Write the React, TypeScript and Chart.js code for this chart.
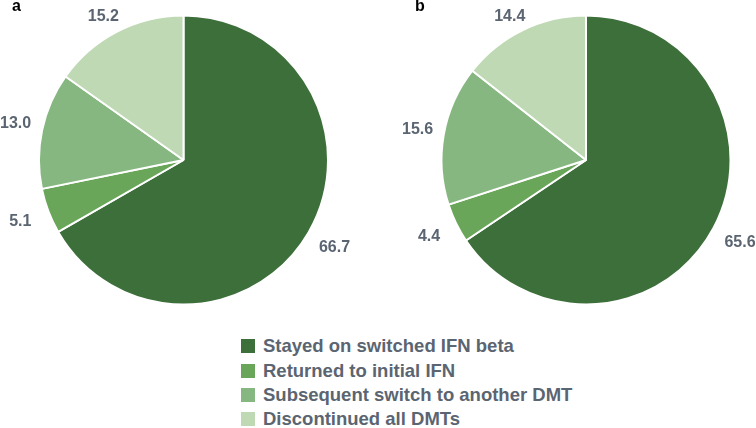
import React, { useEffect, useRef } from "react";
import { Chart, registerables } from "chart.js";

Chart.register(...registerables);

const categories = [
  "Stayed on switched IFN beta",
  "Returned to initial IFN",
  "Subsequent switch to another DMT",
  "Discontinued all DMTs",
];
const valuesA = [66.7, 5.1, 13.0, 15.2];
const valuesB = [65.6, 4.4, 15.6, 14.4];
const panelLetters = ["a", "b"];
const sliceColors = ["#3d6f3a", "#6aa65a", "#86b780", "#bed9b3"];

const FONT = '"Liberation Sans", Arial, Helvetica, sans-serif';
const TEXT = "#5b6571";

const outsideLabels = {
  id: "outsideLabels",
  afterDatasetsDraw(chart: any) {
    const ctx = chart.ctx;
    const meta = chart.getDatasetMeta(0);
    const data = chart.data.datasets[0].data;
    ctx.save();
    ctx.font = `bold 16px ${FONT}`;
    ctx.fillStyle = TEXT;
    ctx.textAlign = "center";
    ctx.textBaseline = "middle";
    meta.data.forEach((arc: any, i: number) => {
      const p = arc.getProps(["x", "y", "startAngle", "endAngle", "outerRadius"], true);
      const mid = (p.startAngle + p.endAngle) / 2;
      const d = p.outerRadius + 30;
      const text = Number(data[i]).toFixed(1);
      const w = ctx.measureText(text).width;
      let x = p.x + Math.cos(mid) * d;
      let y = p.y + Math.sin(mid) * d;
      x = Math.min(Math.max(x, w / 2), chart.width - w / 2);
      y = Math.max(y, 17);
      ctx.fillText(text, x, y);
    });
    ctx.restore();
  },
};

function Pie({ values, left, width }: { values: number[]; left: number; width: number }) {
  const ref = useRef<HTMLCanvasElement | null>(null);
  useEffect(() => {
    if (!ref.current) return;
    const chart = new Chart(ref.current, {
      type: "pie",
      data: {
        labels: categories,
        datasets: [
          {
            data: values,
            backgroundColor: sliceColors,
            borderColor: "#ffffff",
            borderWidth: 2,
            radius: 144.5,
          } as any,
        ],
      },
      options: {
        responsive: false,
        maintainAspectRatio: false,
        animation: false,
        layout: { padding: 0 },
        plugins: {
          legend: { display: false },
          tooltip: { enabled: false },
        },
      },
      plugins: [outsideLabels],
    });
    return () => chart.destroy();
  }, [values]);
  return (
    <canvas
      ref={ref}
      width={width}
      height={320}
      style={{ position: "absolute", left, top: 0, width, height: 320 }}
    />
  );
}

export default function App() {
  const letterStyle: React.CSSProperties = {
    position: "absolute",
    top: -2,
    fontSize: 16,
    lineHeight: "16px",
    fontWeight: "bold",
    color: "#000",
  };
  return (
    <div
      style={{
        position: "fixed",
        left: 0,
        top: 0,
        width: 756,
        height: 428,
        overflow: "hidden",
        background: "#ffffff",
        fontFamily: FONT,
      }}
    >
      <Pie values={valuesA} left={0} width={367} />
      <Pie values={valuesB} left={402} width={368} />
      <div style={{ ...letterStyle, left: 12 }}>{panelLetters[0]}</div>
      <div style={{ ...letterStyle, left: 415 }}>{panelLetters[1]}</div>
      <div style={{ position: "absolute", left: 241, top: 334 }}>
        {categories.map((c, i) => (
          <div key={c} style={{ display: "flex", alignItems: "center", height: 24.4 }}>
            <div style={{ width: 14, height: 14, background: sliceColors[i], marginRight: 8, flex: "none" }} />
            <div style={{ fontSize: 18.5, fontWeight: "bold", color: TEXT, whiteSpace: "nowrap", lineHeight: "20px" }}>{c}</div>
          </div>
        ))}
      </div>
    </div>
  );
}
